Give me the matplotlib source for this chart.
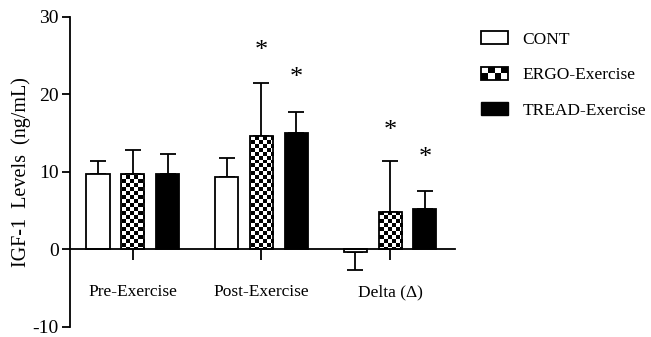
import numpy as np
import matplotlib
matplotlib.use("Agg")
import matplotlib.pyplot as plt
from matplotlib.patches import Rectangle
from matplotlib.legend_handler import HandlerBase

groups = ["Pre-Exercise", "Post-Exercise", "Delta (Δ)"]
series = ["CONT", "ERGO-Exercise", "TREAD-Exercise"]
cont_mean = [9.7, 9.4, -0.3]
cont_err = [1.7, 2.4, 2.3]
ergo_mean = [9.8, 14.7, 4.9]
ergo_err = [3.0, 6.8, 6.5]
tread_mean = [9.7, 15.0, 5.2]
tread_err = [2.6, 2.8, 2.4]
# asterisk heights (y value of the star), None = no star
ergo_star = [None, 25.6, 15.3]
tread_star = [None, 22.1, 11.8]

plt.rcParams["font.family"] = ["Liberation Serif", "DejaVu Serif"]
plt.rcParams["font.size"] = 12
plt.rcParams["axes.unicode_minus"] = False

fig = plt.figure(figsize=(6.51, 3.37), dpi=100)
ax = fig.add_axes([0.1075, 0.0297, 0.5915, 0.92])

x = np.arange(len(groups))
off = 0.272
width = 0.179

# checkerboard image used to fill ERGO bars
ncol, nrow = 96, 78
checker = (np.indices((nrow, ncol)).sum(axis=0) % 2).astype(float)


def draw_bars(pos, means, errs, style):
    for xi, m, e in zip(pos, means, errs):
        if style == "white":
            b = ax.bar(xi, m, width, color="white", edgecolor="black", linewidth=1.3, zorder=2)
        elif style == "black":
            b = ax.bar(xi, m, width, color="black", edgecolor="black", linewidth=1.3, zorder=2)
        else:
            b = ax.bar(xi, m, width, color="white", edgecolor="black", linewidth=1.3, zorder=3)
            im = ax.imshow(checker, cmap="gray", extent=[0, 1, 0, 1], transform=ax.transAxes,
                           aspect="auto", interpolation="nearest", zorder=2)
            im.set_clip_path(b.patches[0])
            b.patches[0].set_facecolor("none")
        sign = 1 if m >= 0 else -1
        ax.errorbar(xi, m, yerr=[[0], [e]] if sign > 0 else [[e], [0]], fmt="none",
                    ecolor="black", elinewidth=1.3, capsize=5.5, capthick=1.3, zorder=1)


draw_bars(x - off, cont_mean, cont_err, "white")
draw_bars(x, ergo_mean, ergo_err, "checker")
draw_bars(x + off, tread_mean, tread_err, "black")

for xi, s in zip(x, ergo_star):
    if s is not None:
        ax.text(xi, s, "*", ha="center", va="center", fontsize=19)
for xi, s in zip(x + off, tread_star):
    if s is not None:
        ax.text(xi, s, "*", ha="center", va="center", fontsize=19)

ax.set_xlim(-0.49, 2.506)
ax.set_ylim(-10, 30)
ax.set_yticks([-10, 0, 10, 20, 30])
ax.set_xticks(x)
ax.set_xticklabels(groups)
ax.spines["top"].set_visible(False)
ax.spines["right"].set_visible(False)
ax.spines["bottom"].set_position(("data", 0))
ax.spines["left"].set_linewidth(1.3)
ax.spines["bottom"].set_linewidth(1.3)
ax.tick_params(axis="y", direction="out", length=6, width=1.3, labelsize=14, pad=2)
ax.tick_params(axis="x", direction="out", length=8, width=1.3, pad=17, labelsize=12.5)
ax.set_ylabel("IGF-1  Levels  (ng/mL)", fontsize=14.5)
ax.yaxis.set_label_coords(-0.1, 0.5)


class CheckerHandler(HandlerBase):
    def create_artists(self, legend, orig_handle, xdescent, ydescent, width, height, fontsize, trans):
        arts = [Rectangle((-xdescent, -ydescent), width, height, facecolor="white",
                          edgecolor="black", linewidth=1.3, transform=trans)]
        nx, ny = 4, 2
        cw, ch = width / nx, height / ny
        for i in range(nx):
            for j in range(ny):
                if (i + j) % 2 == 0:
                    arts.append(Rectangle((-xdescent + i * cw, -ydescent + j * ch), cw, ch,
                                          facecolor="black", edgecolor="none", transform=trans))
        return arts


h_cont = Rectangle((0, 0), 1, 1, facecolor="white", edgecolor="black", linewidth=1.3)
h_ergo = Rectangle((0, 0), 1, 1, facecolor="white", edgecolor="black")
h_tread = Rectangle((0, 0), 1, 1, facecolor="black", edgecolor="black")
fig.legend([h_cont, h_ergo, h_tread], series, loc="upper left",
           bbox_to_anchor=(0.733, 0.918), frameon=False, fontsize=12.5,
           handlelength=1.6, handleheight=0.8, handletextpad=0.8, labelspacing=1.08,
           borderaxespad=0, borderpad=0.2,
           handler_map={h_ergo: CheckerHandler()})

fig.savefig("out.png", dpi=100)
